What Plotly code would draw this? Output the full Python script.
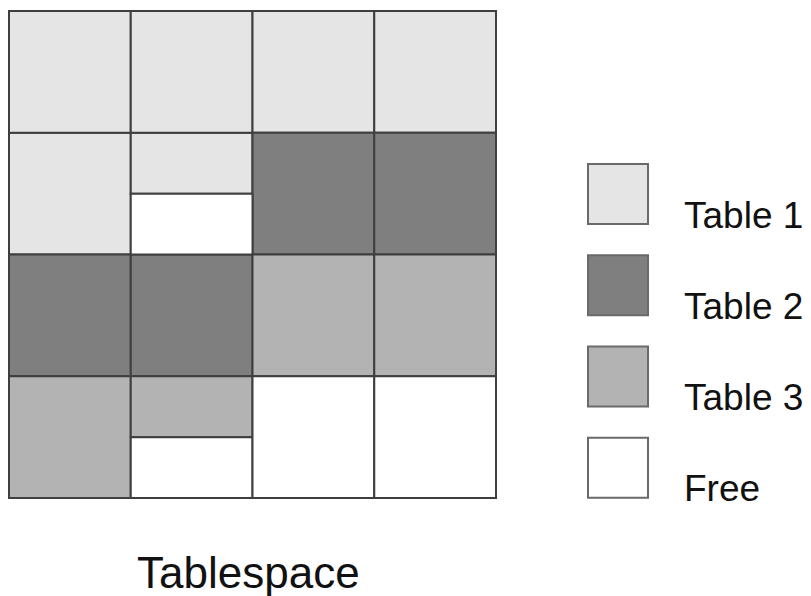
import plotly.graph_objects as go

# tablespace layout: each extent is (column, bottom row, height) in row units
categories = ["Table 1", "Table 2", "Table 3", "Free"]
fill_colors = ["#e5e5e5", "#7f7f7f", "#b3b3b3", "#ffffff"]

t1_cols = [0, 0, 1, 1, 2, 3]
t1_base = [2, 3, 2.5, 3, 3, 3]
t1_size = [1, 1, 0.5, 1, 1, 1]

t2_cols = [0, 1, 2, 3]
t2_base = [1, 1, 2, 2]
t2_size = [1, 1, 1, 1]

t3_cols = [0, 1, 2, 3]
t3_base = [0, 0.5, 1, 1]
t3_size = [1, 0.5, 1, 1]

free_cols = [1, 1, 2, 3]
free_base = [2, 0, 0, 0]
free_size = [0.5, 0.5, 1, 1]

extents = [
    (t1_cols, t1_base, t1_size),
    (t2_cols, t2_base, t2_size),
    (t3_cols, t3_base, t3_size),
    (free_cols, free_base, free_size),
]

legend_order = [0, 1, 2, 3]

FONT = "Liberation Sans, Arial, Helvetica, sans-serif"
EDGE = "#3f3f3f"

# the page has an 8px body margin, so the figure is 8px smaller each way
W, H = 803, 588
u = 121.75  # pixels per grid cell

fig = go.Figure()

for (cols, base, size), name, color in zip(extents, categories, fill_colors):
    fig.add_trace(go.Bar(
        x=cols, y=size, base=base, width=1, name=name,
        marker=dict(color=color, line=dict(color=EDGE, width=2)),
        xaxis="x", yaxis="y",
    ))

# legend swatches drawn as big square markers on their own axes
fig.add_trace(go.Scatter(
    x=[0] * len(categories), y=legend_order, mode="markers",
    marker=dict(symbol="square", size=60, color=fill_colors,
                line=dict(color="#6a6a6a", width=2)),
    xaxis="x2", yaxis="y2", hoverinfo="skip",
))

for name, pos in zip(categories, legend_order):
    fig.add_annotation(
        x=0, y=pos, xref="x2", yref="y2", text=name, showarrow=False,
        xanchor="left", yanchor="middle", xshift=64, yshift=-21,
        font=dict(family=FONT, size=37, color="#111111"),
    )

fig.add_annotation(
    x=241 / W, y=(H - 564) / H, xref="paper", yref="paper", text="Tablespace",
    showarrow=False, xanchor="center", yanchor="middle",
    font=dict(family=FONT, size=44, color="#111111"),
)

fig.update_layout(
    width=W, height=H,
    margin=dict(l=0, r=0, t=0, b=0),
    paper_bgcolor="white", plot_bgcolor="white",
    barmode="overlay", showlegend=False,
    xaxis=dict(domain=[0, 490 / W], range=[-0.5 - 1 / u, 3.5 + 2 / u],
               visible=False),
    yaxis=dict(domain=[(H - 492) / H, (H - 1) / H],
               range=[-2 / u, 4 + 2 / u], visible=False),
    xaxis2=dict(domain=[549 / W, 1], range=[-61, 193], visible=False),
    yaxis2=dict(domain=[(H - 505.3) / H, (H - 140.4) / H],
                range=[3.5, -0.5], visible=False, anchor="x2"),
)

fig.write_html("out.html")
